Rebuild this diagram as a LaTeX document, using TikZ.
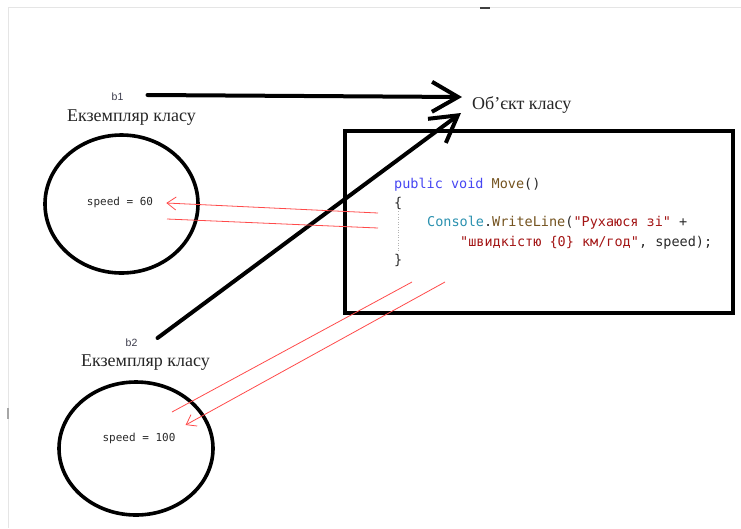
\documentclass[tikz,border=0pt]{standalone}
\usepackage{fontspec}
\setmainfont{Liberation Serif}
\newfontfamily\codefont{DejaVu Sans Mono}
\newfontfamily\labelfont{Liberation Sans}
\usetikzlibrary{arrows.meta,shapes.geometric}

\definecolor{kwblue}{HTML}{4646F2}
\definecolor{methodbrown}{HTML}{74531F}
\definecolor{typeteal}{HTML}{2B91AF}
\definecolor{strred}{HTML}{A31515}
\definecolor{plain}{HTML}{2A2A2A}
\definecolor{refred}{HTML}{FF4A4A}
\definecolor{refgray}{HTML}{3A3A4A}

\begin{document}
\begin{tikzpicture}[x=1pt,y=-1pt,
  inst/.style={draw, ellipse, line width=3.6pt, inner sep=0pt},
  codebox/.style={draw, rectangle, line width=4pt, inner sep=0pt},
  heading/.style={font=\fontsize{18}{20}\selectfont, text=black!85, inner sep=0pt},
  reflabel/.style={font=\labelfont\fontsize{10.5}{12}\selectfont, text=refgray, inner sep=0pt},
  fieldtxt/.style={font=\codefont\fontsize{11}{13}\selectfont, text=plain, inner sep=0pt},
  codeline/.style={font=\codefont\fontsize{13.5}{15}\selectfont, text=plain, anchor=west, inner sep=0pt},
  bigarrow/.style={line width=4pt, line cap=round, -{Straight Barb[length=26pt,width=30pt]}},
  redline/.style={refred, line width=0.8pt},
  redarrow/.style={redline, -{Straight Barb[length=9pt,width=13pt]}}]

\useasboundingbox (0,0) rectangle (741,528);

% faint screenshot frame
\draw[gray!20, line width=1pt] (8,528) -- (8,7.5) -- (741,7.5);
\draw[black!75, line width=2pt] (480,7.5) -- (490,7.5);
\draw[gray!70, line width=1.5pt] (8,408) -- (8,419);

% object instances
\node[inst, minimum width=153pt, minimum height=138pt] (inst1) at (121.5,204) {};
\node[inst, minimum width=154pt, minimum height=133pt] (inst2) at (136,448.5) {};
\node[fieldtxt] (s1) at (120,202) {speed = 60};
\node[fieldtxt] (s2) at (139,438) {speed = 100};

\node[heading] (h1) at (131.5,118) {Екземпляр класу};
\node[heading] (h2) at (145.5,363) {Екземпляр класу};
\node[reflabel] (b1) at (117.5,97) {b1};
\node[reflabel] (b2) at (131.5,343) {b2};

% the class object and its method
\node[heading, anchor=west] (obj) at (472,105) {Об’єкт класу};
\node[codebox, minimum width=388pt, minimum height=182pt] (cls) at (539,222) {};

\node[codeline] (c1) at (394,185) {\textcolor{kwblue}{public void} \textcolor{methodbrown}{Move}()};
\node[codeline] (c2) at (394,203) {\{};
\node[codeline] (c3) at (427,223) {\textcolor{typeteal}{Console}.\textcolor{methodbrown}{WriteLine}(\textcolor{strred}{"Рухаюся зі"} +};
\node[codeline] (c4) at (460,243) {\textcolor{strred}{"швидкістю \{0\} км/год"}, speed);};
\node[codeline] (c5) at (394,260) {\}};
\draw[gray!60, line width=0.6pt, dotted] ([xshift=4pt,yshift=-2pt]c2.south west) -- ([xshift=4pt,yshift=2pt]c5.north west);

% references b1, b2 -> object (shifts are in canvas units, y up)
\draw[bigarrow] ([xshift=24pt,yshift=2pt]b1.east) -- ([xshift=-10pt,yshift=8pt]obj.west);
\draw[bigarrow] ([xshift=20pt,yshift=5pt]b2.east) -- ([xshift=-11pt,yshift=-8pt]obj.west);

% field access from the method body
\coordinate (m1) at (378,213);
\coordinate (m2) at (378,228);
\coordinate (m3) at (412,282);
\coordinate (m4) at (445,282);
\coordinate (e2) at (167,219);
\coordinate (e3) at (172,412);
\draw[redarrow] (m1) -- ([xshift=13pt,yshift=-1pt]s1.east);
\draw[redline] (m2) -- (e2);
\draw[redline] (m3) -- (e3);
\draw[redarrow] (m4) -- ([xshift=10pt,yshift=13pt]s2.east);
\end{tikzpicture}
\end{document}
